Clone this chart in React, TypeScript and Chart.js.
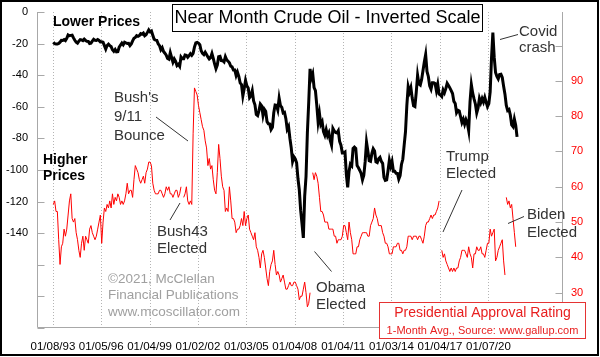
import React, { useEffect, useRef } from "react";
import { Chart, registerables } from "chart.js";

Chart.register(...registerables);

const FONT = '"Liberation Sans", Arial, Helvetica, sans-serif';

// ---------- axis ticks ----------
const xTickLabels = ["01/08/93", "01/05/96", "01/04/99", "01/02/02", "01/03/05", "01/04/08", "01/04/11", "01/03/14", "01/04/17", "01/07/20"];
const xTickYears = [1993.019, 1996.011, 1999.008, 2002.005, 2005.005, 2008.008, 2011.008, 2014.005, 2017.008, 2020.016];
const leftTicks = [-200, -180, -160, -140, -120, -100, -80, -60, -40, -20, 0];
const leftLabelled = [-140, -120, -100, -80, -60, -40, -20, 0];
const rightTicks = [20, 30, 40, 50, 60, 70, 80, 90, 100];
const rightLabelled = [30, 40, 50, 60, 70, 80, 90];

// ---------- near month crude oil, monthly ($/bbl), plotted inverted ----------
const oilStart1990s = 1993; // Jan 1993 .. Dec 1999
const oil1990s = [
  19.1, 20.1, 20.3, 20.3, 19.9, 19.1, 17.9, 18.0, 17.5, 18.1, 16.7, 14.5,
  15.0, 14.8, 14.7, 16.4, 17.9, 19.1, 19.7, 18.4, 17.5, 17.7, 18.1, 17.2,
  18.0, 18.5, 18.6, 19.9, 19.7, 18.4, 17.3, 17.9, 18.0, 17.4, 18.0, 19.0,
  18.9, 19.1, 21.3, 23.5, 21.2, 20.4, 21.3, 21.9, 23.9, 24.9, 23.7, 25.2,
  25.1, 22.2, 20.9, 19.7, 20.8, 19.2, 19.6, 19.9, 19.8, 21.3, 20.2, 18.3,
  16.7, 16.1, 15.0, 15.4, 14.9, 13.7, 14.1, 13.4, 15.0, 14.4, 12.9, 11.3,
  12.5, 12.0, 14.7, 17.3, 17.8, 17.9, 20.1, 21.3, 23.9, 22.6, 25.0, 26.1,
];
const oilStart2000s = 2000; // Jan 2000 .. Dec 2009
const oil2000s = [
  27.3, 29.4, 29.9, 25.7, 28.8, 31.8, 29.7, 31.2, 33.9, 33.1, 34.4, 28.5,
  29.6, 29.6, 27.2, 27.4, 28.6, 27.6, 26.4, 27.4, 26.2, 22.2, 19.6, 19.3,
  19.7, 20.7, 24.5, 26.2, 27.0, 25.5, 26.9, 28.4, 29.7, 28.9, 26.3, 29.4,
  32.9, 35.9, 33.6, 28.3, 28.1, 30.7, 30.8, 31.6, 28.3, 30.3, 31.1, 32.2,
  34.3, 34.7, 36.7, 36.7, 40.3, 38.0, 40.7, 44.9, 45.9, 53.1, 48.5, 43.3,
  46.8, 48.1, 54.2, 53.0, 49.8, 56.3, 58.7, 64.9, 65.6, 62.4, 58.3, 59.4,
  65.5, 61.6, 62.9, 69.4, 70.8, 70.9, 74.4, 73.0, 63.8, 58.9, 59.1, 62.0,
  54.5, 59.3, 60.4, 63.9, 63.5, 67.5, 74.1, 72.4, 79.9, 86.0, 94.6, 91.7,
  93.0, 95.4, 105.4, 112.6, 125.4, 134.0, 143.0, 116.7, 104.1, 76.6, 57.3, 36.0,
  41.7, 39.1, 47.9, 49.7, 59.0, 69.6, 64.2, 71.1, 69.4, 75.7, 78.0, 74.5,
];
const oilStart2010s = 2010; // Jan 2010 .. Dec 2019
const oil2010s = [
  78.3, 76.4, 81.2, 84.3, 73.7, 75.3, 76.3, 76.6, 75.2, 81.9, 84.3, 89.2,
  89.2, 88.6, 102.9, 111.0, 100.9, 96.3, 97.3, 86.3, 85.5, 86.3, 97.2, 98.6,
  100.3, 102.2, 106.2, 103.3, 94.7, 82.3, 87.9, 94.1, 94.5, 89.5, 86.5, 87.9,
  94.8, 95.3, 92.9, 92.0, 94.5, 95.8, 104.6, 106.6, 106.3, 100.5, 93.9, 97.6,
  94.6, 100.8, 100.8, 102.1, 102.2, 105.8, 103.6, 96.5, 93.2, 84.4, 75.8, 59.3,
  47.2, 50.6, 47.8, 54.5, 59.3, 59.8, 50.9, 40.0, 45.5, 46.2, 42.7, 37.2,
  31.7, 27.0, 37.6, 40.8, 46.7, 48.8, 44.7, 44.7, 45.2, 49.8, 45.7, 52.0,
  52.5, 53.5, 49.3, 51.1, 48.5, 45.2, 46.6, 48.0, 49.8, 51.6, 56.6, 57.9,
  63.7, 62.2, 62.7, 66.3, 70.0, 67.9, 71.0, 68.1, 70.2, 75.0, 57.0, 46.0,
  51.4, 55.0, 58.2, 63.9, 60.8, 54.7, 57.4, 54.8, 57.0, 54.0, 57.0, 59.9,
];
const oilStart2020s = 2020; // Jan 2020 .. Oct 2021
const oil2020s = [
  58.0, 50.5, 29.2, 13.0, 28.6, 38.3, 40.7, 42.3, 39.6, 39.4, 41.4, 47.0,
  52.0, 59.1, 62.3, 61.7, 65.2, 71.4, 72.5, 67.7, 71.6, 79.0,
];

// ---------- presidential approval (Gallup, 1-month avg, %) ----------
const clintonStart = [1993, 1];
const clintonApproval = [
  55, 56, 53, 53, 45, 38, 43, 44, 48, 46, 48, 52,
  56, 58, 51, 50, 51, 47, 45, 42, 40, 44, 46, 42,
  46, 45, 44, 48, 49, 47, 46, 45, 46, 48, 50, 52,
  44, 50, 54, 53, 55, 54, 56, 54, 58, 55, 57, 56,
  58, 57, 55, 56, 55, 56, 58, 61, 58, 59, 59, 57,
  62, 66, 65, 64, 62, 61, 62, 63, 61, 64, 65, 67,
  67, 66, 61, 59, 58, 58, 58, 59, 59, 58, 57, 58,
  60, 59, 60, 58, 58, 57, 58, 59, 59, 57, 58, 60,
];
const bush43Start = [2001, 2];
const bush43Approval = [
  57, 58, 60, 56, 55, 56, 55, 75, 88, 87, 86,
  83, 81, 79, 77, 76, 73, 71, 66, 68, 65, 66, 62,
  59, 58, 64, 72, 68, 63, 60, 59, 53, 54, 53, 60,
  56, 51, 51, 50, 47, 48, 48, 49, 51, 49, 53, 49,
  51, 52, 48, 47, 46, 45, 47, 43, 42, 40, 37, 41,
  42, 40, 37, 34, 32, 36, 38, 39, 42, 38, 35, 36,
  35, 33, 34, 35, 33, 31, 31, 32, 33, 32, 32, 33,
  33, 32, 31, 28, 29, 29, 31, 33, 30, 26, 27, 30,
];
const obamaStart = [2009, 2];
const obamaApproval = [
  64, 62, 64, 63, 61, 57, 53, 53, 52, 50, 50,
  50, 48, 48, 48, 48, 46, 46, 44, 45, 45, 45, 46,
  49, 49, 47, 45, 50, 47, 45, 41, 41, 41, 43, 43,
  45, 46, 47, 47, 47, 47, 46, 46, 49, 50, 51, 54,
  52, 51, 49, 49, 49, 47, 46, 44, 44, 43, 41, 41,
  41, 43, 43, 43, 44, 44, 42, 42, 41, 42, 42, 43,
  46, 46, 46, 45, 46, 46, 46, 45, 46, 46, 45, 44,
  46, 49, 50, 50, 51, 52, 51, 52, 52, 53, 54, 56,
];
const trumpStart = [2017, 2];
const trumpApproval = [
  42, 40, 41, 39, 38, 37, 36, 37, 36, 37, 36,
  37, 37, 39, 40, 42, 42, 42, 41, 40, 43, 41, 40,
  37, 41, 41, 43, 42, 42, 43, 41, 41, 40, 42, 44,
  44, 48, 46, 47, 48, 39, 40, 42, 43, 44, 45, 39,
  35,
];
const bidenStart = [2021, 2];
const bidenApproval = [57, 55, 56, 54, 55, 51, 47, 43];

// ---------- helpers ----------
function monthlyPoints(year: number, month: number, values: number[], sign = 1) {
  return values.map((v, i) => ({ x: year + (month - 1 + i + 0.5) / 12, y: sign * v }));
}

const oilPoints = [
  ...monthlyPoints(oilStart1990s, 1, oil1990s, -1),
  ...monthlyPoints(oilStart2000s, 1, oil2000s, -1),
  ...monthlyPoints(oilStart2010s, 1, oil2010s, -1),
  ...monthlyPoints(oilStart2020s, 1, oil2020s, -1),
];

const approvalSeries = [
  monthlyPoints(clintonStart[0], clintonStart[1], clintonApproval),
  monthlyPoints(bush43Start[0], bush43Start[1], bush43Approval),
  monthlyPoints(obamaStart[0], obamaStart[1], obamaApproval),
  monthlyPoints(trumpStart[0], trumpStart[1], trumpApproval),
  monthlyPoints(bidenStart[0], bidenStart[1], bidenApproval),
];

const ANN = "#333333";
const RED = "#ff0000";

const overlayPlugin = {
  id: "overlay",
  beforeDatasetsDraw(chart: any) {
    const { ctx, chartArea: a, scales } = chart;
    ctx.save();
    // dotted vertical gridlines
    ctx.strokeStyle = "#b4b4b4";
    ctx.lineWidth = 1;
    ctx.setLineDash([1, 2]);
    xTickYears.forEach((v) => {
      const x = Math.round(scales.x.getPixelForValue(v)) + 0.5;
      ctx.beginPath();
      ctx.moveTo(x, a.top);
      ctx.lineTo(x, a.bottom);
      ctx.stroke();
    });
    ctx.setLineDash([]);
    // axis lines
    ctx.strokeStyle = "#a8a8a8";
    const L = Math.round(a.left) + 0.5;
    const R = Math.round(a.right) - 0.5;
    const B = Math.round(a.bottom) - 0.5;
    ctx.beginPath();
    ctx.moveTo(L, a.top);
    ctx.lineTo(L, B);
    ctx.lineTo(R, B);
    ctx.lineTo(R, a.top);
    ctx.stroke();
    // tick marks (inside)
    leftTicks.forEach((v) => {
      const y = Math.round(scales.y.getPixelForValue(v)) + 0.5;
      ctx.beginPath();
      ctx.moveTo(L, y);
      ctx.lineTo(L + 7, y);
      ctx.stroke();
    });
    rightTicks.forEach((v) => {
      const y = Math.round(scales.y2.getPixelForValue(v)) + 0.5;
      ctx.beginPath();
      ctx.moveTo(R - 7, y);
      ctx.lineTo(R, y);
      ctx.stroke();
    });
    ctx.restore();
  },
  afterDraw(chart: any) {
    const { ctx } = chart;
    ctx.save();
    ctx.textBaseline = "middle";
    ctx.textAlign = "left";

    const line = (x1: number, y1: number, x2: number, y2: number, color = ANN) => {
      ctx.strokeStyle = color;
      ctx.lineWidth = 1;
      ctx.beginPath();
      ctx.moveTo(x1, y1);
      ctx.lineTo(x2, y2);
      ctx.stroke();
    };
    const text = (s: string, x: number, y: number, font: string, color: string) => {
      ctx.font = font;
      ctx.fillStyle = color;
      ctx.fillText(s, x, y);
    };

    // title box
    ctx.fillStyle = "#ffffff";
    ctx.fillRect(172.5, 4.5, 310, 27);
    ctx.strokeStyle = "#000";
    ctx.lineWidth = 1;
    ctx.strokeRect(172.5, 4.5, 310, 27);
    ctx.textAlign = "center";
    text("Near Month Crude Oil - Inverted Scale", 327.5, 18, `18px ${FONT}`, "#000");
    ctx.textAlign = "left";

    // side labels
    text("Lower Prices", 53, 22.5, `bold 14px ${FONT}`, "#000");
    text("Higher", 43, 160, `bold 14px ${FONT}`, "#000");
    text("Prices", 43, 176, `bold 14px ${FONT}`, "#000");

    const af = `15px ${FONT}`;
    // Bush's 9/11 bounce
    text("Bush's", 114, 98, af, ANN);
    text("9/11", 114, 117, af, ANN);
    text("Bounce", 114, 136, af, ANN);
    line(156, 117, 188, 141);
    // Bush43 elected
    text("Bush43", 157, 232, af, ANN);
    text("Elected", 157, 249, af, ANN);
    line(170, 220, 180, 203);
    // Obama elected
    text("Obama", 316, 288, af, ANN);
    text("Elected", 316, 305, af, ANN);
    line(314.5, 251.5, 331.5, 271.5);
    // Trump elected
    text("Trump", 446, 156.5, af, ANN);
    text("Elected", 446, 173.5, af, ANN);
    line(462, 190, 443, 232);
    // Biden elected
    text("Biden", 527, 215, af, ANN);
    text("Elected", 527, 233, af, ANN);
    line(508, 223.5, 524, 216.5);
    // Covid crash
    text("Covid", 519, 32, af, ANN);
    text("crash", 519, 48, af, ANN);
    line(500, 39.5, 518, 34.5);

    // copyright
    const cf = `13.5px ${FONT}`;
    text("\u00A92021, McClellan", 108, 279, cf, "#a0a0a0");
    text("Financial Publications", 108, 295.5, cf, "#a0a0a0");
    text("www.mcoscillator.com", 108, 312, cf, "#a0a0a0");

    // red legend box
    ctx.fillStyle = "#ffffff";
    ctx.fillRect(379.5, 302.5, 206, 36);
    ctx.strokeStyle = "#e53333";
    ctx.strokeRect(379.5, 302.5, 206, 36);
    ctx.textAlign = "center";
    text("Presidential Approval Rating", 482.5, 313.5, `14px ${FONT}`, "#e82020");
    text("1-Month Avg., Source: www.gallup.com", 482.5, 331, `11px ${FONT}`, "#e82020");

    // outer border
    ctx.strokeStyle = "#000";
    ctx.lineWidth = 2;
    ctx.strokeRect(1, 1, 597, 354);
    ctx.restore();
  },
};

const zeroPad = (s: any) => {
  s.paddingTop = 0;
  s.paddingBottom = 0;
  s.paddingLeft = 0;
  s.paddingRight = 0;
};

export default function App() {
  const ref = useRef<HTMLCanvasElement | null>(null);

  useEffect(() => {
    if (!ref.current) return;
    const datasets: any[] = [
      {
        label: "Crude Oil (inverted)",
        data: oilPoints,
        yAxisID: "y",
        borderColor: "#000000",
        borderWidth: 3,
        pointRadius: 0,
        tension: 0,
        fill: false,
      },
      ...approvalSeries.map((pts, i) => ({
        label: "Approval " + i,
        data: pts,
        yAxisID: "y2",
        borderColor: RED,
        borderWidth: 1,
        pointRadius: 0,
        tension: 0,
        fill: false,
      })),
    ];

    const chart = new Chart(ref.current, {
      type: "line",
      data: { datasets },
      plugins: [overlayPlugin],
      options: {
        animation: false,
        responsive: false,
        devicePixelRatio: 1,
        layout: { padding: { top: 12, left: 0, right: 0, bottom: 0 } },
        plugins: { legend: { display: false }, tooltip: { enabled: false }, title: { display: false } },
        scales: {
          x: {
            type: "linear",
            min: 1992.03,
            max: 2024.64,
            grid: { display: false, drawTicks: false },
            border: { display: false },
            afterBuildTicks: (s: any) => {
              s.ticks = xTickYears.map((v) => ({ value: v }));
            },
            afterFit: (s: any) => {
              s.height = 29;
              zeroPad(s);
            },
            ticks: {
              autoSkip: false,
              maxRotation: 0,
              minRotation: 0,
              padding: 12,
              color: "#000",
              font: { family: FONT, size: 11.5 },
              callback: (v: any) => {
                const i = xTickYears.indexOf(Number(v));
                return i >= 0 ? xTickLabels[i] : "";
              },
            },
          },
          y: {
            type: "linear",
            position: "left",
            min: -200,
            max: 0,
            grid: { display: false, drawTicks: false },
            border: { display: false },
            afterBuildTicks: (s: any) => {
              s.ticks = leftTicks.map((v) => ({ value: v }));
            },
            afterFit: (s: any) => {
              s.width = 37;
              zeroPad(s);
            },
            ticks: {
              autoSkip: false,
              padding: 9,
              color: "#000",
              font: { family: FONT, size: 11 },
              callback: (v: any) => (leftLabelled.includes(Number(v)) ? String(Number(v) === 0 ? 0 : v) : ""),
            },
          },
          y2: {
            type: "linear",
            position: "right",
            min: 20,
            max: 109.5,
            grid: { display: false, drawTicks: false },
            border: { display: false },
            afterBuildTicks: (s: any) => {
              s.ticks = rightTicks.map((v) => ({ value: v }));
            },
            afterFit: (s: any) => {
              s.width = 37;
              zeroPad(s);
            },
            ticks: {
              autoSkip: false,
              padding: 8,
              color: RED,
              font: { family: FONT, size: 11 },
              callback: (v: any) => (rightLabelled.includes(Number(v)) ? String(v) : ""),
            },
          },
        },
      } as any,
    });
    return () => chart.destroy();
  }, []);

  return (
    <div style={{ position: "absolute", left: 0, top: 0, width: 600, height: 357, background: "#fff" }}>
      <canvas ref={ref} width={600} height={357} style={{ display: "block", width: 600, height: 357 }} />
    </div>
  );
}
